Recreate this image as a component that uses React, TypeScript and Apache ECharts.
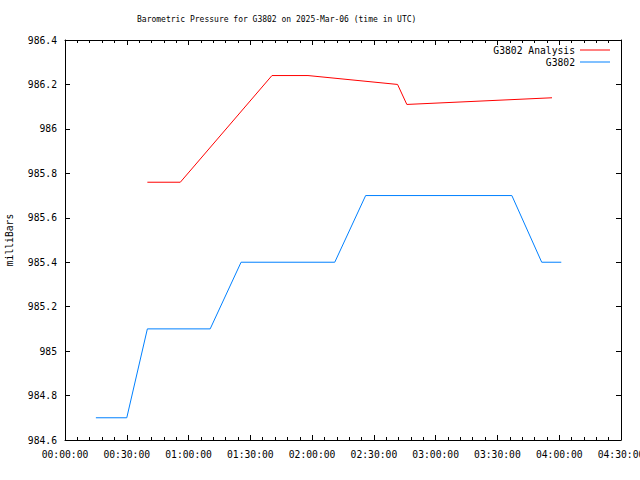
import React, { useEffect, useRef } from "react";
import * as echarts from "echarts";

const TITLE = "Barometric Pressure for G3802 on 2025-Mar-06 (time in UTC)";
const Y_NAME = "milliBars";
const SERIES_NAMES = ["G3802 Analysis", "G3802"];

const analysisTimes = ["00:40:00", "00:56:00", "01:40:30", "01:58:00", "02:41:30", "02:46:00", "03:56:30"];
const analysisValues = [985.76, 985.76, 986.24, 986.24, 986.2, 986.11, 986.14];

const obsTimes = ["00:15:00", "00:30:00", "00:40:00", "01:10:30", "01:25:30", "02:11:00", "02:26:00", "03:37:00", "03:51:30", "04:01:00"];
const obsValues = [984.7, 984.7, 985.1, 985.1, 985.4, 985.4, 985.7, 985.7, 985.4, 985.4];

const X_MIN = 0;
const X_MAX = 16200;
const X_STEP = 1800;
const Y_MIN = 984.6;
const Y_MAX = 986.4;
const Y_STEP = 0.2;

const toSec = (s: string) => {
  const [h, m, sec] = s.split(":").map(Number);
  return h * 3600 + m * 60 + sec;
};
const fmt = (v: number) => {
  const h = Math.floor(v / 3600);
  const m = Math.floor((v % 3600) / 60);
  const s = Math.round(v % 60);
  const p = (n: number) => String(n).padStart(2, "0");
  return `${p(h)}:${p(m)}:${p(s)}`;
};

const FONT = "DejaVu Sans Mono";

export default function App() {
  const ref = useRef<HTMLDivElement>(null);
  useEffect(() => {
    if (!ref.current) return;
    const chart = echarts.init(ref.current, undefined, { renderer: "svg" });
    const axisLine = { show: true, onZero: false, lineStyle: { color: "#000", width: 1 } };
    const tick = { show: true, inside: true, length: 5, lineStyle: { color: "#000" } };
    const minor = { show: true, splitNumber: 5, length: 3, lineStyle: { color: "#000" } };
    chart.setOption({
      animation: false,
      backgroundColor: "#fff",
      textStyle: { fontFamily: FONT },
      title: {
        text: TITLE,
        left: 137,
        top: 15,
        padding: 0,
        textStyle: { fontFamily: FONT, fontSize: 8, fontWeight: "normal", color: "#000" },
      },
      legend: {
        orient: "vertical",
        right: 30,
        top: 45,
        padding: 0,
        align: "right",
        itemWidth: 30,
        itemHeight: 1,
        itemGap: 2,
        icon: "rect",
        textStyle: { fontFamily: FONT, fontSize: 9.7, color: "#000", padding: [0, 0, 0, 0] },
        data: SERIES_NAMES,
      },
      grid: { left: 65, right: 19, top: 40, bottom: 40, containLabel: false, outerBoundsMode: "none" },
      xAxis: [
        {
          type: "value",
          min: X_MIN,
          max: X_MAX,
          interval: X_STEP,
          position: "bottom",
          axisLine,
          axisTick: tick,
          minorTick: minor,
          splitLine: { show: false },
          axisLabel: {
            margin: 9,
            formatter: (v: number) => fmt(v),
            fontFamily: FONT,
            fontSize: 9.7,
            color: "#000",
            showMinLabel: true,
            showMaxLabel: true,
            hideOverlap: false,
          },
        },
        {
          type: "value",
          min: X_MIN,
          max: X_MAX,
          interval: X_STEP,
          position: "top",
          axisLine,
          axisTick: tick,
          minorTick: minor,
          splitLine: { show: false },
          axisLabel: { show: false },
        },
      ],
      yAxis: [
        {
          type: "value",
          min: Y_MIN,
          max: Y_MAX,
          interval: Y_STEP,
          position: "left",
          name: Y_NAME,
          nameLocation: "middle",
          nameRotate: 90,
          nameGap: 51,
          nameTextStyle: { fontFamily: FONT, fontSize: 9.7, color: "#000" },
          axisLine,
          axisTick: tick,
          splitLine: { show: false },
          axisLabel: {
            margin: 8,
            fontFamily: FONT,
            fontSize: 9.7,
            color: "#000",
            formatter: (v: number) => String(Math.round(v * 10) / 10),
          },
        },
        {
          type: "value",
          min: Y_MIN,
          max: Y_MAX,
          interval: Y_STEP,
          position: "right",
          axisLine,
          axisTick: tick,
          splitLine: { show: false },
          axisLabel: { show: false },
        },
      ],
      series: [
        {
          name: SERIES_NAMES[0],
          type: "line",
          xAxisIndex: 0,
          yAxisIndex: 0,
          showSymbol: false,
          symbol: "none",
          color: "#ff0000",
          lineStyle: { color: "#ff0000", width: 1 },
          data: analysisTimes.map((t, i) => [toSec(t), analysisValues[i]]),
        },
        {
          name: SERIES_NAMES[1],
          type: "line",
          xAxisIndex: 0,
          yAxisIndex: 0,
          showSymbol: false,
          symbol: "none",
          color: "#0080ff",
          lineStyle: { color: "#0080ff", width: 1 },
          data: obsTimes.map((t, i) => [toSec(t), obsValues[i]]),
        },
      ],
    });
    return () => chart.dispose();
  }, []);
  return (
    <div
      ref={ref}
      style={{ position: "fixed", left: 0, top: 0, width: 640, height: 480, background: "#fff" }}
    />
  );
}
